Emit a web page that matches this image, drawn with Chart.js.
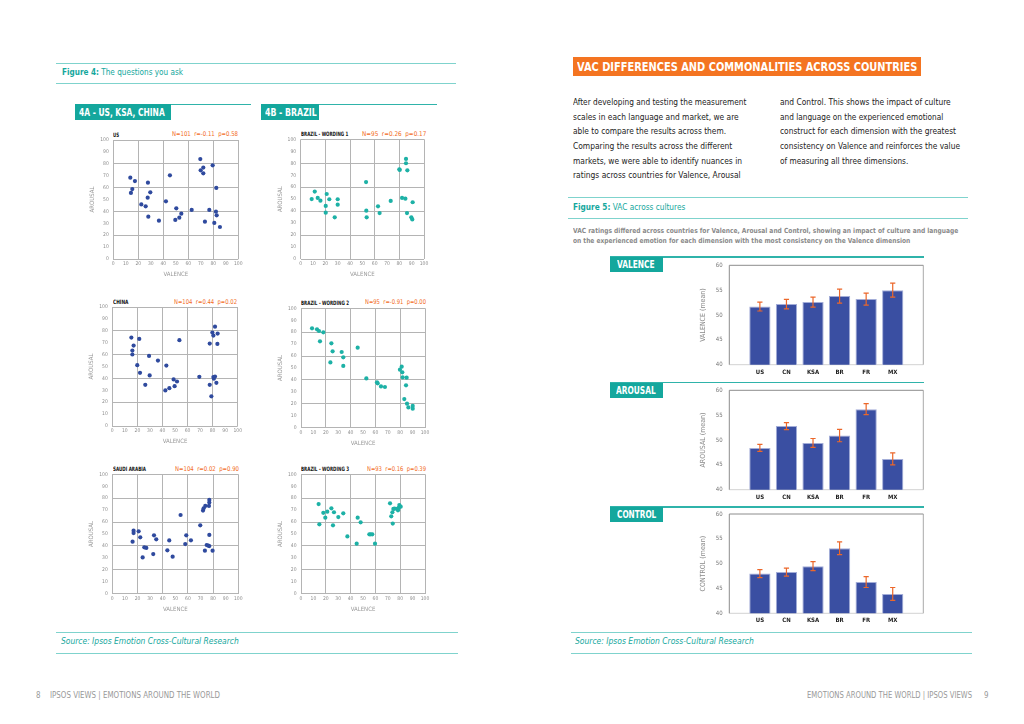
<!DOCTYPE html>
<html>
<head>
<meta charset="utf-8">
<script src="https://cdn.jsdelivr.net/npm/chart.js@4.4.1/dist/chart.umd.min.js"></script>
<style>
  html, body { margin: 0; padding: 0; background: #fff; }
  body {
    width: 1024px; height: 724px; position: relative; overflow: hidden;
    font-family: "Liberation Sans Narrow", "DejaVu Sans Condensed", "Liberation Sans", Arial, sans-serif;
  }
  .t { position: absolute; white-space: nowrap; line-height: 1; transform-origin: 0 50%; }
  .r { position: absolute; }
  canvas { position: absolute; }
</style>
</head>
<body>
<script>
/* VAC spread — scatter plots (fig 4) and bar charts with error bars (fig 5) */

const FONT   = '"Liberation Sans Narrow", "DejaVu Sans Condensed", "Liberation Sans", Arial, sans-serif';
const TEAL   = "#14a79d";
const RULE   = "#7fd3cd";
const ORANGE = "#f26a22";
const BLUE   = "#2f4a9e";
const GREEN  = "#1db1a6";

// ---- fig 4 data: valence (x) / arousal (y) per emotion ----
const US_VAL  = [13.6, 17.3, 15.2, 14.1, 27.7, 29.6, 27.5, 22.4, 25.9, 28.0, 36.5, 42.1, 45.3, 50.4, 54.4, 52.8, 49.6, 62.7, 69.6, 69.9, 72.0, 72.0, 79.5, 82.4, 76.8, 82.1, 82.7, 73.3, 80.8, 85.3];
const US_ARO  = [68.3, 65.5, 58.8, 55.5, 64.1, 56.0, 51.5, 45.9, 44.3, 35.6, 32.2, 48.5, 70.3, 42.6, 38.1, 34.7, 32.8, 41.2, 84.0, 74.5, 76.8, 72.0, 78.7, 59.7, 41.2, 39.8, 36.7, 31.4, 30.3, 26.9];

const BR1_VAL = [8.9, 11.4, 13.8, 16.0, 21.1, 23.2, 20.3, 20.3, 30.0, 30.0, 27.6, 53.0, 53.2, 53.5, 62.7, 64.0, 73.0, 80.3, 80.0, 85.4, 85.4, 86.5, 82.2, 84.9, 86.2, 90.8, 89.7, 90.5];
const BR1_ARO = [50.1, 56.3, 51.0, 48.7, 54.3, 49.9, 44.3, 38.7, 49.9, 45.4, 34.8, 64.3, 40.4, 34.8, 44.0, 38.4, 48.5, 74.4, 74.9, 83.6, 80.0, 74.1, 51.0, 50.4, 38.4, 47.4, 34.8, 33.1];

const CN_VAL  = [15.2, 21.5, 17.0, 16.0, 16.0, 19.9, 22.1, 29.3, 29.8, 26.3, 36.4, 43.1, 53.5, 42.3, 45.5, 48.9, 51.6, 49.7, 69.4, 77.7, 77.7, 79.0, 80.6, 81.0, 81.9, 83.0, 79.8, 80.6, 81.9, 84.0, 83.8];
const CN_ARO  = [74.3, 73.2, 67.6, 63.4, 60.1, 51.1, 44.7, 58.9, 42.5, 34.6, 55.0, 50.8, 72.1, 29.9, 31.8, 39.1, 37.4, 33.5, 41.3, 69.3, 34.6, 24.9, 41.1, 39.7, 41.6, 36.3, 78.5, 76.0, 83.5, 77.7, 69.0];

const BR2_VAL = [8.9, 12.9, 14.5, 18.0, 15.3, 24.5, 25.5, 32.8, 34.1, 23.7, 34.1, 45.7, 52.7, 61.3, 61.8, 64.5, 67.7, 81.2, 79.8, 81.7, 82.0, 85.2, 84.7, 83.3, 85.5, 86.6, 90.1, 90.1];
const BR2_ARO = [83.2, 82.4, 81.0, 79.9, 72.3, 70.7, 64.0, 63.4, 58.9, 54.7, 51.7, 67.0, 41.3, 38.0, 37.2, 34.6, 34.1, 51.1, 48.6, 46.4, 42.2, 41.9, 35.5, 24.0, 20.1, 17.0, 18.2, 15.9];

const SA_VAL  = [16.9, 16.9, 16.1, 20.9, 22.2, 25.4, 27.0, 24.1, 33.1, 34.9, 32.5, 45.2, 43.7, 47.9, 54.2, 58.7, 57.9, 62.4, 69.8, 72.0, 72.5, 73.8, 76.7, 77.0, 77.0, 73.5, 74.9, 76.2, 77.0, 77.0, 79.6];
const SA_ARO  = [52.8, 50.8, 43.6, 52.2, 47.2, 38.8, 38.3, 30.4, 48.9, 45.5, 33.2, 44.6, 36.3, 31.0, 65.9, 48.9, 41.6, 44.7, 57.3, 69.6, 71.5, 73.5, 73.5, 76.3, 78.5, 36.0, 40.8, 40.2, 39.9, 49.2, 36.0];

const BR3_VAL = [14.2, 14.8, 18.0, 19.6, 21.2, 24.5, 26.6, 25.8, 30.1, 34.1, 37.4, 44.9, 45.7, 48.1, 55.1, 56.2, 57.5, 59.7, 71.8, 72.8, 73.7, 74.0, 74.5, 75.5, 78.0, 78.2, 79.3, 80.4, 78.8];
const BR3_ARO = [75.1, 58.1, 67.7, 63.7, 68.7, 71.5, 68.2, 57.3, 64.2, 67.3, 48.0, 41.9, 63.7, 59.8, 49.7, 49.7, 49.7, 41.9, 75.7, 64.8, 68.2, 58.7, 71.0, 71.2, 71.2, 69.8, 74.3, 72.9, 71.8];

const SCATTER_TICKS = { min: 0, max: 100, step: 10 };

// ---- fig 5 data ----
const COUNTRIES    = ["US", "CN", "KSA", "BR", "FR", "MX"];
const VALENCE_MEAN = [51.7, 52.2, 52.6, 53.8, 53.2, 55.0];
const VALENCE_ERR  = [0.9, 0.95, 1.0, 1.4, 1.2, 1.4];
const AROUSAL_MEAN = [48.4, 52.8, 49.4, 50.9, 56.2, 46.2];
const AROUSAL_ERR  = [0.7, 0.7, 0.9, 1.25, 1.1, 1.2];
const CONTROL_MEAN = [48.0, 48.3, 49.5, 53.1, 46.3, 43.9];
const CONTROL_ERR  = [0.8, 0.8, 0.9, 1.3, 1.1, 1.3];
const BAR_TICKS    = { min: 40, max: 60, step: 5 };

Chart.defaults.font.family = FONT;
Chart.defaults.animation = false;

// ---------- page helpers ----------
function txt(html, x, y, size, color, o = {}) {
  const el = document.createElement("div");
  el.className = "t";
  el.innerHTML = html;
  el.style.left = x + "px";
  el.style.top = (y - size / 2) + "px";
  el.style.fontSize = size + "px";
  el.style.color = color;
  if (o.bold) el.style.fontWeight = "bold";
  if (o.italic) el.style.fontStyle = "italic";
  document.body.appendChild(el);
  if (o.w) {
    const w = el.getBoundingClientRect().width;
    el.style.transform = `scaleX(${o.w / w})`;
  }
  return el;
}

function rect(x, y, w, h, color) {
  const el = document.createElement("div");
  el.className = "r";
  Object.assign(el.style, { left: x + "px", top: y + "px", width: w + "px", height: h + "px", background: color });
  document.body.appendChild(el);
}

function canvasAt(left, top, w, h) {
  const cv = document.createElement("canvas");
  cv.width = w; cv.height = h;
  Object.assign(cv.style, { left: left + "px", top: top + "px", width: w + "px", height: h + "px" });
  document.body.appendChild(cv);
  return cv;
}

// fixed axis boxes so the plot area lands where the page wants it
const fixW = w => s => { s.width = w; s.paddingTop = 0; s.paddingBottom = 0; };
const fixH = h => s => { s.height = h; s.paddingLeft = 0; s.paddingRight = 0; };

// ---------- scatter (fig 4) ----------
function scatter(x0, x1, y0, y1, xs, ys, color) {
  const left = Math.round(x0 - 28), top = Math.round(y0 - 4);
  const w = Math.round(x1 + 8) - left, h = Math.round(y1 + 23) - top;
  const cv = canvasAt(left, top, w, h);
  const grid = {
    drawTicks: false,
    color: c => (c.tick && c.tick.value % 20 === 0) ? "#b4b4b4" : "rgba(0,0,0,0)",
  };
  const tickFont = { size: 5 };
  new Chart(cv, {
    type: "scatter",
    data: {
      datasets: [{
        data: xs.map((x, i) => ({ x, y: ys[i] })),
        backgroundColor: color,
        borderWidth: 0,
        pointRadius: 2.1,
      }],
    },
    options: {
      responsive: false,
      layout: { padding: { top: y0 - top, right: left + w - x1, left: 0, bottom: 0 } },
      plugins: { legend: { display: false }, tooltip: { enabled: false } },
      scales: {
        x: {
          min: SCATTER_TICKS.min, max: SCATTER_TICKS.max,
          grid, border: { display: false },
          ticks: { stepSize: SCATTER_TICKS.step, font: tickFont, color: "#8c8c8c", padding: 2, autoSkip: false, maxRotation: 0 },
          title: { display: true, text: "VALENCE", color: "#999", font: { size: 6 }, padding: { top: 2, bottom: 4 } },
          afterFit: fixH(h - (y1 - top)),
        },
        y: {
          min: SCATTER_TICKS.min, max: SCATTER_TICKS.max,
          grid, border: { display: false },
          ticks: { stepSize: SCATTER_TICKS.step, font: tickFont, color: "#8c8c8c", padding: 4.5, autoSkip: false },
          title: { display: true, text: "AROUSAL", color: "#999", font: { size: 6 }, padding: { top: 4, bottom: 2 } },
          afterFit: fixW(x0 - left),
        },
      },
    },
  });
}

// ---------- bars with error bars (fig 5) ----------
function bars(x0, x1, y0, y1, means, errs, yTitle) {
  const inset = 17.3;
  const left = 695, top = Math.round(y0 - 5);
  const w = Math.round(x1 + 2) - left, h = Math.round(y1 + 13) - top;
  const cv = canvasAt(left, top, w, h);

  const frame = {
    id: "frame",
    beforeDatasetsDraw(chart) {
      const { ctx, chartArea: a } = chart;
      const l = a.left - inset, r = a.right + inset;
      ctx.save();
      ctx.lineWidth = 1;
      ctx.strokeStyle = "#d2d2d2";
      ctx.beginPath(); ctx.moveTo(l, a.bottom); ctx.lineTo(r, a.bottom); ctx.stroke();
      ctx.strokeStyle = "#a9a9a9";
      ctx.beginPath(); ctx.moveTo(r, a.bottom); ctx.lineTo(r, a.top); ctx.stroke();
      ctx.strokeStyle = "#8c8c8c";
      ctx.beginPath(); ctx.moveTo(r, a.top); ctx.lineTo(l, a.top); ctx.lineTo(l, a.bottom); ctx.stroke();
      ctx.restore();
    },
  };

  const errorBars = {
    id: "errorBars",
    afterDatasetsDraw(chart) {
      const ctx = chart.ctx, y = chart.scales.y;
      const meta = chart.getDatasetMeta(0);
      ctx.save();
      ctx.strokeStyle = "#ec672a";
      ctx.lineWidth = 1.2;
      meta.data.forEach((bar, i) => {
        const hi = y.getPixelForValue(means[i] + errs[i]);
        const lo = y.getPixelForValue(means[i] - errs[i]);
        ctx.beginPath();
        ctx.moveTo(bar.x, hi); ctx.lineTo(bar.x, lo);
        ctx.moveTo(bar.x - 2.6, hi); ctx.lineTo(bar.x + 2.6, hi);
        ctx.moveTo(bar.x - 2.6, lo); ctx.lineTo(bar.x + 2.6, lo);
        ctx.stroke();
      });
      ctx.restore();
    },
  };

  new Chart(cv, {
    type: "bar",
    data: {
      labels: COUNTRIES,
      datasets: [{
        data: means,
        backgroundColor: "#3a4fa2",
        borderColor: "#a3add8",
        borderWidth: 1,
        categoryPercentage: 1,
        barPercentage: 0.8,
      }],
    },
    options: {
      responsive: false,
      layout: { padding: { top: y0 - top, right: left + w - (x1 - inset), left: 0, bottom: 0 } },
      plugins: { legend: { display: false }, tooltip: { enabled: false } },
      scales: {
        x: {
          grid: { display: false, drawTicks: false }, border: { display: false },
          ticks: { font: { size: 6, weight: "bold" }, color: "#222", padding: 4, maxRotation: 0 },
          afterFit: fixH(h - (y1 - top)),
        },
        y: {
          min: BAR_TICKS.min, max: BAR_TICKS.max,
          grid: { display: false, drawTicks: false }, border: { display: false },
          ticks: { stepSize: BAR_TICKS.step, font: { size: 6 }, color: "#777", padding: 24 },
          title: { display: true, text: yTitle, color: "#8a8a8a", font: { size: 7 }, padding: { top: 4, bottom: 2 } },
          afterFit: fixW(x0 + inset - left),
        },
      },
    },
    plugins: [frame, errorBars],
  });
}

// ================= LEFT PAGE =================
rect(56, 62.5, 400, 1.3, RULE);
txt("<b>Figure 4:</b> The questions you ask", 61.7, 72.7, 9, TEAL, { w: 121 });
rect(56, 82.7, 400, 1.3, RULE);

rect(75, 104, 95.7, 16, TEAL);
rect(170.7, 103.7, 80.3, 1.3, "#2fb3aa");
txt("4A - US, KSA, CHINA", 79.3, 112.3, 11, "#fff", { bold: true, w: 85.7 });
rect(261, 104, 58.3, 16, TEAL);
rect(319.3, 103.7, 117.4, 1.3, "#2fb3aa");
txt("4B - BRAZIL", 265, 112.3, 11, "#fff", { bold: true, w: 51.7 });

// chart headers
txt("US", 113.3, 134.7, 6, "#111", { bold: true, w: 6 });
txt("N=101&nbsp;&nbsp;r=-0.11&nbsp;&nbsp;p=0.58", 171.7, 134.7, 6.5, ORANGE, { w: 66 });
txt("BRAZIL - WORDING 1", 300.7, 134.3, 6, "#111", { bold: true, w: 47.3 });
txt("N=95&nbsp;&nbsp;r=0.26&nbsp;&nbsp;p=0.17", 361.7, 134.3, 6.5, ORANGE, { w: 64.3 });
txt("CHINA", 113, 302, 6, "#111", { bold: true, w: 15.5 });
txt("N=104&nbsp;&nbsp;r=0.44&nbsp;&nbsp;p=0.02", 174, 302, 6.5, ORANGE, { w: 63 });
txt("BRAZIL - WORDING 2", 301, 302.7, 6, "#111", { bold: true, w: 48 });
txt("N=95&nbsp;&nbsp;r=-0.91&nbsp;&nbsp;p=0.00", 365, 302.7, 6.5, ORANGE, { w: 61 });
txt("SAUDI ARABIA", 112.7, 469, 6, "#111", { bold: true, w: 33 });
txt("N=104&nbsp;&nbsp;r=0.02&nbsp;&nbsp;p=0.90", 175, 469, 6.5, ORANGE, { w: 64 });
txt("BRAZIL - WORDING 3", 301, 469, 6, "#111", { bold: true, w: 48 });
txt("N=93&nbsp;&nbsp;r=0.16&nbsp;&nbsp;p=0.39", 367, 469, 6.5, ORANGE, { w: 59 });

scatter(113.3, 238.3, 140.0, 259.0, US_VAL,  US_ARO,  BLUE);
scatter(300.7, 424.0, 139.3, 259.0, BR1_VAL, BR1_ARO, GREEN);
scatter(112.3, 237.7, 306.7, 426.0, CN_VAL,  CN_ARO,  BLUE);
scatter(301.0, 425.0, 308.3, 427.7, BR2_VAL, BR2_ARO, GREEN);
scatter(112.3, 238.3, 474.3, 593.7, SA_VAL,  SA_ARO,  BLUE);
scatter(301.0, 425.0, 474.3, 593.7, BR3_VAL, BR3_ARO, GREEN);

rect(56, 631.7, 401.5, 1.3, RULE);
txt("Source: Ipsos Emotion Cross-Cultural Research", 61.2, 642.3, 8, TEAL, { italic: true, w: 177.8 });
rect(56, 652.7, 401.5, 1.3, RULE);

txt("8", 36, 696, 8, "#999", { w: 4.5 });
txt("IPSOS VIEWS | EMOTIONS AROUND THE WORLD", 50, 696, 8, "#999", { w: 170 });

// ================= RIGHT PAGE =================
rect(572.7, 56.7, 348, 19, "#f47421");
txt("VAC DIFFERENCES AND COMMONALITIES ACROSS COUNTRIES", 576.7, 66.3, 13, "#fff", { bold: true, w: 340.3 });

const COL1 = [
  ["After developing and testing the measurement", 173.3],
  ["scales in each language and market, we are", 165.7],
  ["able to compare the results across them.", 153],
  ["Comparing the results across the different", 159.3],
  ["markets, we were able to identify nuances in", 169],
  ["ratings across countries for Valence, Arousal", 167.7],
];
const COL2 = [
  ["and Control. This shows the impact of culture", 170.7],
  ["and language on the experienced emotional", 163.3],
  ["construct for each dimension with the greatest", 176],
  ["consistency on Valence and reinforces the value", 180],
  ["of measuring all three dimensions.", 128.3],
];
COL1.forEach(([s, w], i) => txt(s, 572.7, 101.7 + i * 14.65, 9.5, "#222", { w }));
COL2.forEach(([s, w], i) => txt(s, 780, 101.7 + i * 14.65, 9.5, "#222", { w }));

rect(568, 197.2, 399.5, 1.3, RULE);
txt("<b>Figure 5:</b> VAC across cultures", 572.7, 207.7, 9, TEAL, { w: 112.3 });
rect(568, 217.7, 399.5, 1.3, RULE);

txt("VAC ratings differed across countries for Valence, Arousal and Control, showing an impact of culture and language", 572.7, 231, 7, "#8a8a8a", { bold: true, w: 385.3 });
txt("on the experienced emotion for each dimension with the most consistency on the Valence dimension", 572.7, 241.3, 7, "#8a8a8a", { bold: true, w: 337.3 });

// section tabs
rect(610, 256.2, 314, 1.4, "#2fb3aa");
rect(610, 257, 53.3, 14.5, TEAL);
txt("VALENCE", 617.3, 264.7, 10, "#fff", { bold: true, w: 37.7 });
rect(610, 382, 314, 1.4, "#2fb3aa");
rect(610, 382.7, 53.3, 15, TEAL);
txt("AROUSAL", 616, 390.5, 10, "#fff", { bold: true, w: 39.7 });
rect(610, 506.3, 314, 1.4, "#2fb3aa");
rect(610, 507.2, 53.3, 14.5, TEAL);
txt("CONTROL", 616.7, 515, 10, "#fff", { bold: true, w: 39.3 });

bars(729.3, 923.3, 265.3, 364.7, VALENCE_MEAN, VALENCE_ERR, "VALENCE (mean)");
bars(729.3, 923.3, 390.3, 489.7, AROUSAL_MEAN, AROUSAL_ERR, "AROUSAL (mean)");
bars(729.3, 923.3, 514.0, 613.3, CONTROL_MEAN, CONTROL_ERR, "CONTROL (mean)");

rect(570.8, 631.7, 401, 1.3, RULE);
txt("Source: Ipsos Emotion Cross-Cultural Research", 575.2, 642.3, 8, TEAL, { italic: true, w: 178.8 });
rect(570.8, 652.7, 401, 1.3, RULE);

txt("EMOTIONS AROUND THE WORLD | IPSOS VIEWS", 807, 696, 8, "#999", { w: 165 });
txt("9", 984, 696, 8, "#999", { w: 4.5 });
</script>
</body>
</html>
